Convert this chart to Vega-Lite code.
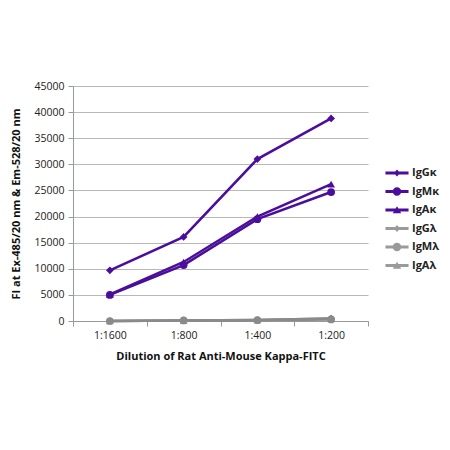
{
  "$schema": "https://vega.github.io/schema/vega-lite/v6.json",
  "autosize": "none",
  "width": 295,
  "height": 235,
  "padding": {"left": 73, "top": 86, "right": 82, "bottom": 129},
  "background": "white",
  "config": {
    "font": "Open Sans",
    "view": {"stroke": null},
    "axis": {"labelFont": "Open Sans", "titleFont": "Open Sans", "labelColor": "#222", "titleColor": "#111", "labelFontSize": 10.5, "titleFontSize": 11, "titleFontWeight": "bold", "domainColor": "#999", "tickColor": "#999", "gridColor": "#b8b8b8"}
  },
  "data": {"values": [
    {"dil": "1:1600", "series": "IgGκ", "fi": 9700},
    {"dil": "1:800", "series": "IgGκ", "fi": 16100},
    {"dil": "1:400", "series": "IgGκ", "fi": 31000},
    {"dil": "1:200", "series": "IgGκ", "fi": 38800},
    {"dil": "1:1600", "series": "IgMκ", "fi": 5000},
    {"dil": "1:800", "series": "IgMκ", "fi": 10700},
    {"dil": "1:400", "series": "IgMκ", "fi": 19500},
    {"dil": "1:200", "series": "IgMκ", "fi": 24700},
    {"dil": "1:1600", "series": "IgAκ", "fi": 5100},
    {"dil": "1:800", "series": "IgAκ", "fi": 11300},
    {"dil": "1:400", "series": "IgAκ", "fi": 20000},
    {"dil": "1:200", "series": "IgAκ", "fi": 26200},
    {"dil": "1:1600", "series": "IgGλ", "fi": 0},
    {"dil": "1:800", "series": "IgGλ", "fi": 100},
    {"dil": "1:400", "series": "IgGλ", "fi": 200},
    {"dil": "1:200", "series": "IgGλ", "fi": 500},
    {"dil": "1:1600", "series": "IgMλ", "fi": 0},
    {"dil": "1:800", "series": "IgMλ", "fi": 100},
    {"dil": "1:400", "series": "IgMλ", "fi": 150},
    {"dil": "1:200", "series": "IgMλ", "fi": 300},
    {"dil": "1:1600", "series": "IgAλ", "fi": 0},
    {"dil": "1:800", "series": "IgAλ", "fi": 100},
    {"dil": "1:400", "series": "IgAλ", "fi": 200},
    {"dil": "1:200", "series": "IgAλ", "fi": 500}
  ]},
  "encoding": {
    "x": {"field": "dil", "type": "nominal", "sort": ["1:1600", "1:800", "1:400", "1:200"],
      "scale": {"paddingInner": 0, "paddingOuter": 0},
      "axis": {"title": "Dilution of Rat Anti-Mouse Kappa-FITC", "labelAngle": 0, "tickBand": "extent", "tickSize": 5, "labelPadding": 4, "titlePadding": 10, "grid": false}},
    "y": {"field": "fi", "type": "quantitative",
      "scale": {"domain": [0, 45000], "nice": false},
      "axis": {"title": "FI at Ex-485/20 nm & Em-528/20 nm", "format": "d", "values": [0,5000,10000,15000,20000,25000,30000,35000,40000,45000], "tickSize": 5, "labelPadding": 4, "titlePadding": 12, "grid": true}},
    "color": {"field": "series", "type": "nominal",
      "scale": {"domain": ["IgGκ", "IgMκ", "IgAκ", "IgGλ", "IgMλ", "IgAλ"], "range": ["#4b0e9c", "#4b0e9c", "#4b0e9c", "#8a8a8a", "#8a8a8a", "#8a8a8a"]}}
  },
  "layer": [
    {"mark": {"type": "line", "strokeWidth": 2.5}, "encoding": {"color": {"field": "series", "type": "nominal", "legend": null}, "detail": {"field": "series"}}},
    {"mark": {"type": "point", "filled": true, "opacity": 1, "size": 60},
      "encoding": {
        "color": {"field": "series", "type": "nominal", "legend": null},
        "shape": {"field": "series", "type": "nominal", "legend": null,
          "scale": {"domain": ["IgGκ", "IgMκ", "IgAκ", "IgGλ", "IgMλ", "IgAλ"], "range": ["diamond", "circle", "triangle-up", "diamond", "circle", "triangle-up"]}}}},
    {"mark": {"type": "point", "filled": true, "opacity": 0, "size": 60},
      "encoding": {
        "color": {"field": "series", "type": "nominal",
          "scale": {"domain": ["IgGκ", "IgMκ", "IgAκ", "IgGλ", "IgMλ", "IgAλ"], "range": ["#4b0e9c", "#4b0e9c", "#4b0e9c", "#9a9a9a", "#9a9a9a", "#9a9a9a"]},
          "legend": {"orient": "none", "legendX": 316, "legendY": 79, "title": null, "symbolOpacity": 1, "symbolSize": 237, "symbolStrokeWidth": 0, "labelFontSize": 11, "labelFontWeight": "bold", "labelColor": "#222", "rowPadding": 5.5, "labelOffset": 7}},
        "shape": {"field": "series", "type": "nominal",
          "scale": {"domain": ["IgGκ", "IgMκ", "IgAκ", "IgGλ", "IgMλ", "IgAλ"], "range": [
            "M-1.5,-0.18H1.5V0.18H-1.5Z M0,-0.45L0.4,0L0,0.45L-0.4,0Z",
            "M-1.5,-0.18H1.5V0.18H-1.5Z M-0.55,0A0.55,0.55 0 1,1 0.55,0A0.55,0.55 0 1,1 -0.55,0Z",
            "M-1.5,-0.18H1.5V0.18H-1.5Z M0,-0.5L0.55,0.42L-0.55,0.42Z",
            "M-1.5,-0.18H1.5V0.18H-1.5Z M0,-0.45L0.4,0L0,0.45L-0.4,0Z",
            "M-1.5,-0.18H1.5V0.18H-1.5Z M-0.55,0A0.55,0.55 0 1,1 0.55,0A0.55,0.55 0 1,1 -0.55,0Z",
            "M-1.5,-0.18H1.5V0.18H-1.5Z M0,-0.5L0.55,0.42L-0.55,0.42Z"]},
          "legend": {"orient": "none", "legendX": 316, "legendY": 79, "title": null, "symbolOpacity": 1, "symbolSize": 237, "symbolStrokeWidth": 0, "labelFontSize": 11, "labelFontWeight": "bold", "labelColor": "#222", "rowPadding": 5.5, "labelOffset": 7}}}}
  ],
  "resolve": {"scale": {"shape": "independent", "color": "independent"}}
}
